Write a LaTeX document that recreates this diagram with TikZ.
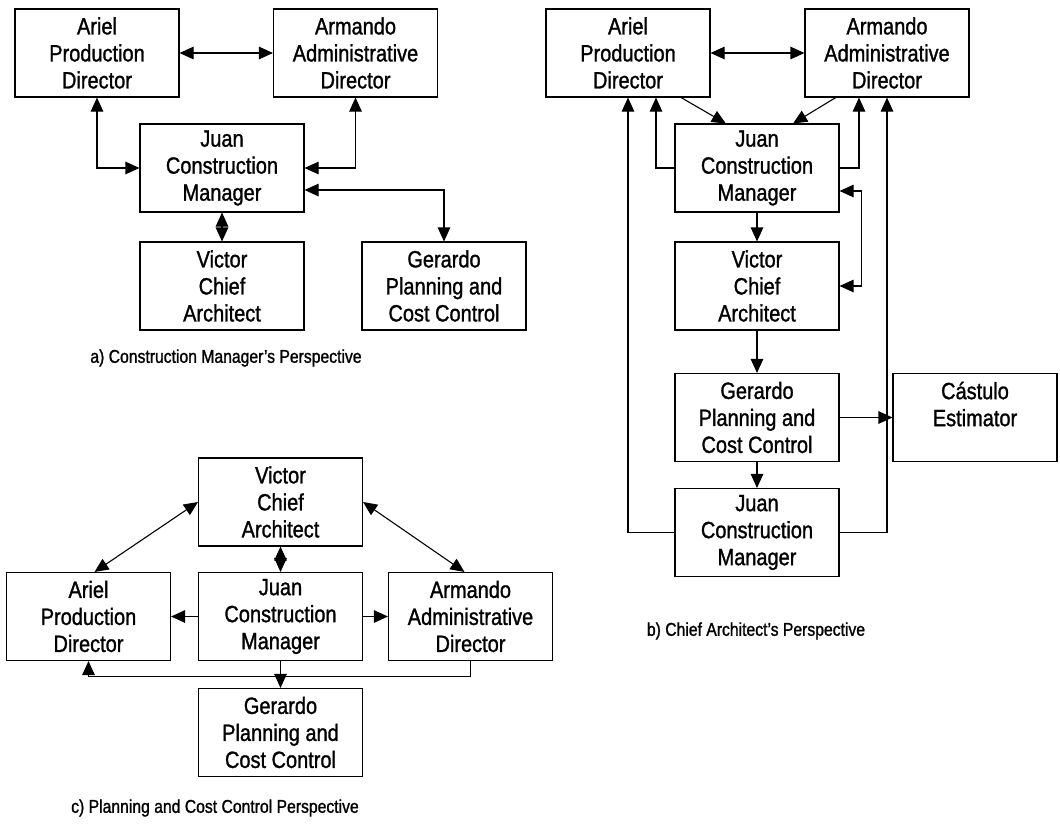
\documentclass[tikz,border=0pt]{standalone}
\usepackage{fontspec}
\setmainfont{Liberation Sans}[FakeStretch=0.85,FakeBold=1.2]
\usepackage{tikz}
\usetikzlibrary{arrows.meta,positioning}

\begin{document}
\begin{tikzpicture}[
                x=1pt,y=-1pt,
                box/.style={draw,line width=1.1pt,minimum width=164pt,minimum height=88pt,align=center,inner sep=0pt,
                    font=\fontsize{23.5}{27}\selectfont},
                caption/.style={font=\fontsize{18.5}{22}\selectfont},
                >={Triangle[length=14pt,width=12.5pt]}
            ]
                \useasboundingbox (0,0) rectangle (1060,831);

                \node[box] (a-ariel)   at (97,53)    {Ariel\\Production\\Director};
                \node[box] (a-armando) at (355.5,53) {Armando\\Administrative\\Director};
                \node[box] (a-juan)    at (222,168)  {Juan\\Construction\\Manager};
                \node[box] (a-victor)  at (222,286)  {Victor\\Chief\\Architect};
                \node[box] (a-gerardo) at (444,286)  {Gerardo\\Planning and\\Cost Control};
                \node[caption] (a-caption) at (226,358) {a) Construction Manager's Perspective};

                \node[box] (b-ariel)   at (628,53)    {Ariel\\Production\\Director};
                \node[box] (b-armando) at (887,53)    {Armando\\Administrative\\Director};
                \node[box] (b-juan)    at (757,168)   {Juan\\Construction\\Manager};
                \node[box] (b-victor)  at (757,286)   {Victor\\Chief\\Architect};
                \node[box] (b-gerardo) at (757,417.5) {Gerardo\\Planning and\\Cost Control};
                \node[box] (b-juan2)   at (757,532.5) {Juan\\Construction\\Manager};
                \node[box] (b-castulo) at (975,417.5) {C\'astulo\\Estimator\\\mbox{}};
                \node[caption] (b-caption) at (756,631) {b) Chief Architect's Perspective};

                \node[box] (c-victor)  at (280.5,502)   {Victor\\Chief\\Architect};
                \node[box] (c-ariel)   at (88.5,616.5)  {Ariel\\Production\\Director};
                \node[box] (c-juan)    at (280.5,616.5) {Juan\\Construction\\Manager};
                \node[box] (c-armando) at (470.5,616.5) {Armando\\Administrative\\Director};
                \node[box] (c-gerardo) at (280.5,732.5) {Gerardo\\Planning and\\Cost Control};
                \node[caption] (c-caption) at (215,808) {c) Planning and Cost Control Perspective};

                \begin{scope}[line width=1.1pt]
                    \draw[<->] (a-ariel) -- (a-armando);
                    \draw[<->] (a-ariel.south) |- (a-juan.west);
                    \draw[<->] (a-armando.south) |- (a-juan.east);
                    \draw[<->] ([yshift=-22]a-juan.east) -| (a-gerardo.north);
                    \draw[<->] (a-juan) -- (a-victor);

                    \draw[<->] (b-ariel) -- (b-armando);
                    \draw[->] (b-ariel.-40) -- (b-juan.125);
                    \draw[->] (b-armando.221) -- (b-juan.51);
                    \draw[<-] ([xshift=28]b-ariel.south) |- (b-juan.west);
                    \draw[<-] ([xshift=-28]b-armando.south) |- (b-juan.east);
                    \draw[<->] ([yshift=-23]b-juan.east) -- ++(22,0) |- (b-victor.east);
                    \draw[->] (b-juan) -- (b-victor);
                    \draw[->] (b-victor) -- (b-gerardo);
                    \draw[->] (b-gerardo) -- (b-juan2);
                    \draw[->] (b-gerardo) -- (b-castulo);
                    \draw[->] (b-juan2.west) -| (b-ariel.south);
                    \draw[->] (b-juan2.east) -| (b-armando.south);

                    \draw[<->] (c-victor.west) -- ([xshift=6]c-ariel.north);
                    \draw[<->] (c-victor.east) -- ([xshift=-6]c-armando.north);
                    \draw[<->] (c-victor) -- (c-juan);
                    \draw[->] (c-juan) -- (c-ariel);
                    \draw[->] (c-juan) -- (c-armando);
                    \draw[->] (c-juan) -- (c-gerardo);
                    \draw[->] (c-armando.south) -- ++(0,15) -| (c-ariel.south);
                \end{scope}
            \end{tikzpicture}
\end{document}
